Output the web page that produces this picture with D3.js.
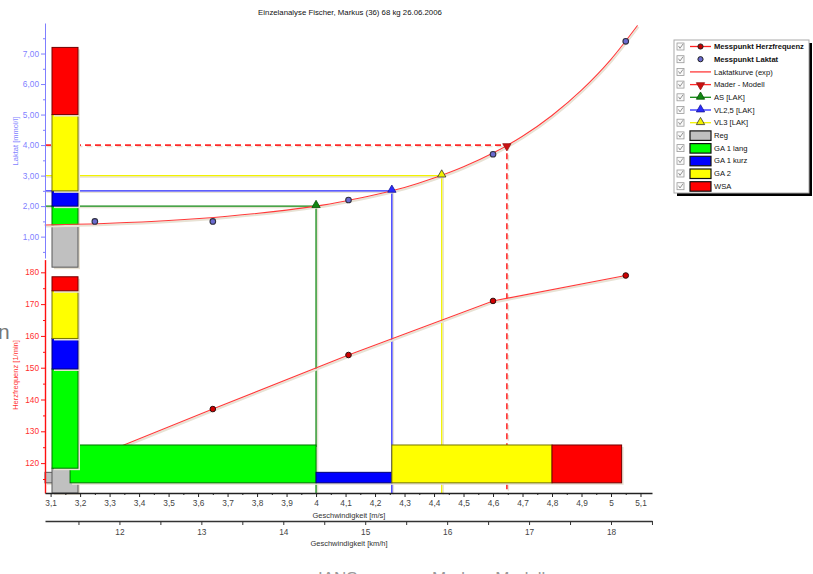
<!DOCTYPE html>
<html>
<head>
<meta charset="utf-8">
<script src="https://cdn.jsdelivr.net/npm/d3@7"></script>
<style>
  body { margin: 0; background: #fff; overflow: hidden; }
  svg { display: block; font-family: "Liberation Sans", Arial, sans-serif; }
</style>
</head>
<body>
<svg id="chart" width="813" height="574"></svg>
<script>
// ---- data ----
const titleText = "Einzelanalyse Fischer, Markus (36) 68 kg 26.06.2006";

const hrSpeed = [3.25, 3.65, 4.11, 4.60, 5.05];
const hrValues = [122, 137, 154, 171, 179];

const lacSpeed = [3.25, 3.65, 4.11, 4.60, 5.05];
const lacValues = [1.5, 1.5, 2.2, 3.7, 7.4];

// lactate curve (exp), sampled along the drawn line
const curveSpeed = [3.08, 3.3, 3.5, 3.7, 3.9, 4.0, 4.1, 4.2, 4.3, 4.4, 4.5, 4.6, 4.7, 4.8, 4.9, 5.0, 5.09];
const curveLactate = [1.38, 1.44, 1.53, 1.67, 1.87, 2.0, 2.17, 2.37, 2.61, 2.92, 3.29, 3.74, 4.29, 4.97, 5.80, 6.81, 7.92];

// thresholds
const thresholdNames = ["AS [LAK]", "VL2,5 [LAK]", "VL3 [LAK]", "Mader - Modell"];
const thresholdSpeed = [4.0, 4.257, 4.426, 4.647];
const thresholdLactate = [2.0, 2.5, 3.0, 4.0];

// training zones
const zoneNames = ["Reg", "GA 1 lang", "GA 1 kurz", "GA 2", "WSA"];
const zoneLactate = [0, 1.38, 2.0, 2.5, 5.0, 7.2];          // bounds
const zoneHr = [110.6, 118.4, 149.6, 159.2, 174.2, 178.6];   // bounds
const zoneSpeed = [3.081, 3.166, 4.0, 4.257, 4.8, 5.036];    // bounds
const zoneSpeedBarTop = [117.1, 125.7, 117.1, 125.7, 125.7]; // in 1/min
const zoneSpeedBarBase = 113.8;

// tick labels
const lactateTicks = [1, 2, 3, 4, 5, 6, 7];
const hrTicks = [120, 130, 140, 150, 160, 170, 180];
const msTicks = [3.1, 3.2, 3.3, 3.4, 3.5, 3.6, 3.7, 3.8, 3.9, 4.0, 4.1, 4.2, 4.3, 4.4, 4.5, 4.6, 4.7, 4.8, 4.9, 5.0, 5.1];
const kmhTicks = [12, 13, 14, 15, 16, 17, 18];

// ---- styles ----
const zoneColors = ["#c0c0c0", "#00ff00", "#0000ff", "#ffff00", "#ff0000"];
const thresholdColors = ["#118811", "#2a2aff", "#f2f200", "#ff2a2a"];
const shadowColor = "#e8e2d4";
const lacBlue = "#7f7fff";
const hrRed = "#ff1010";

const svg = d3.select("#chart");

const x = d3.scaleLinear().domain([3.081, 5.139]).range([45, 652]);
const xKmh = d3.scaleLinear().domain([3.081 * 3.6, 5.139 * 3.6]).range([45, 652]);
const yLac = d3.scaleLinear().domain([0.3, 8]).range([258, 23]);
const yHr = d3.scaleLinear().domain([110.6, 184]).range([493, 259.6]);

const barLeft = 52, barRight = 78;
const axisBottomY = yHr.range()[0];
const comma = s => s.replace(".", ",");

// title
svg.append("text")
  .attr("x", 350).attr("y", 15)
  .attr("text-anchor", "middle")
  .attr("font-size", 7.8)
  .attr("fill", "#111")
  .text(titleText);

// stray page text around the screenshot
svg.append("text").attr("x", -2).attr("y", 339)
  .attr("font-size", 21).attr("fill", "#777").text("n");
svg.append("text").attr("x", 318).attr("y", 584)
  .attr("font-size", 17).attr("fill", "#999").text("IANS.");
svg.append("text").attr("x", 432).attr("y", 584)
  .attr("font-size", 17).attr("fill", "#999").text("Mader - Modell");

const plot = svg.append("g");

// threshold lines (under the bars)
thresholdNames.forEach((name, i) => {
  const pts = [
    [x(x.domain()[0]), yLac(thresholdLactate[i])],
    [x(thresholdSpeed[i]), yLac(thresholdLactate[i])],
    [x(thresholdSpeed[i]), axisBottomY]
  ];
  plot.append("path")
    .attr("d", d3.line()(pts.map(p => [p[0] + 1.5, p[1] + 1.5])))
    .attr("fill", "none").attr("stroke", shadowColor).attr("stroke-width", 1.5)
    .attr("stroke-dasharray", i === 3 ? "6,4" : null);
  plot.append("path")
    .attr("d", d3.line()(pts))
    .attr("fill", "none")
    .attr("stroke", thresholdColors[i])
    .attr("stroke-width", i === 3 ? 1.6 : 1.3)
    .attr("stroke-dasharray", i === 3 ? "6,4" : null);
});

// heart rate line
const hrLine = d3.line().x((d, i) => x(hrSpeed[i])).y(d => yHr(d));
plot.append("path").attr("d", hrLine(hrValues))
  .attr("transform", "translate(1,1.5)")
  .attr("fill", "none").attr("stroke", shadowColor).attr("stroke-width", 2);
plot.append("path").attr("d", hrLine(hrValues))
  .attr("fill", "none").attr("stroke", "#ff3a3a").attr("stroke-width", 1.1);

// heart rate points (first one sits behind the zone bar)
plot.selectAll(".hrpt").data(hrValues).enter().append("circle")
  .attr("cx", (d, i) => x(hrSpeed[i])).attr("cy", d => yHr(d))
  .attr("r", 2.8)
  .attr("fill", "#d00000").attr("stroke", "#301010").attr("stroke-width", 1);

// bars
function zoneRect(x0, y0, x1, y1, color) {
  const g = plot.append("g");
  g.append("rect")
    .attr("x", Math.min(x0, x1) + 2).attr("y", Math.min(y0, y1) + 2)
    .attr("width", Math.abs(x1 - x0)).attr("height", Math.abs(y1 - y0))
    .attr("fill", shadowColor);
  g.append("rect")
    .attr("x", Math.min(x0, x1)).attr("y", Math.min(y0, y1))
    .attr("width", Math.abs(x1 - x0)).attr("height", Math.abs(y1 - y0))
    .attr("fill", color)
    .attr("stroke", d3.color(color).darker(2.2))
    .attr("stroke-width", 1);
}
const speedBar = i => zoneRect(x(zoneSpeed[i]), yHr(zoneSpeedBarBase), x(zoneSpeed[i + 1]), yHr(zoneSpeedBarTop[i]), zoneColors[i]);
const hrBar = i => zoneRect(barLeft, yHr(zoneHr[i]), barRight, yHr(zoneHr[i + 1]), zoneColors[i]);
const lacBar = i => zoneRect(barLeft, yLac(zoneLactate[i]), barRight, yLac(zoneLactate[i + 1]), zoneColors[i]);

speedBar(0);
hrBar(0);
for (let i = 1; i < zoneNames.length; i++) speedBar(i);
for (let i = 1; i < zoneNames.length; i++) hrBar(i);
for (let i = 0; i < zoneNames.length; i++) lacBar(i);

// lactate curve
const lacCurve = d3.line()
  .x((d, i) => x(curveSpeed[i]))
  .y(d => yLac(d))
  .curve(d3.curveMonotoneX);
plot.append("path").attr("d", lacCurve(curveLactate))
  .attr("transform", "translate(1,1.5)")
  .attr("fill", "none").attr("stroke", shadowColor).attr("stroke-width", 2);
plot.append("path").attr("d", lacCurve(curveLactate))
  .attr("fill", "none").attr("stroke", "#ff3a3a").attr("stroke-width", 1.1);

// threshold markers
const triUp = d3.symbol().type(d3.symbolTriangle).size(30);
thresholdNames.forEach((name, i) => {
  const rot = i === 3 ? " rotate(180)" : "";
  plot.append("path")
    .attr("d", triUp())
    .attr("transform", `translate(${x(thresholdSpeed[i])},${yLac(thresholdLactate[i]) + (i === 3 ? 1 : -1)})${rot}`)
    .attr("fill", i === 3 ? "#cc1010" : thresholdColors[i])
    .attr("stroke", i === 2 ? "#333" : d3.color(thresholdColors[i]).darker(1.5))
    .attr("stroke-width", 0.8);
});

// lactate points
plot.selectAll(".lacpt").data(lacValues).enter().append("circle")
  .attr("cx", (d, i) => x(lacSpeed[i])).attr("cy", d => yLac(d))
  .attr("r", 2.8)
  .attr("fill", "#6a6ad0").attr("stroke", "#303040").attr("stroke-width", 1.1);

// ---- axes ----
function styleAxis(g, color, fontSize) {
  g.selectAll("path.domain").attr("stroke", color);
  g.selectAll(".tick line").attr("stroke", color);
  g.selectAll(".tick text").attr("fill", color).attr("font-size", fontSize)
    .attr("font-family", "Liberation Sans, Arial, sans-serif");
}

// lactate axis
const lacMinor = d3.range(0.5, 8.01, 0.5).filter(v => v % 1 !== 0);
const gLac = svg.append("g").attr("transform", "translate(45,0)")
  .call(d3.axisLeft(yLac).tickValues(lactateTicks).tickSize(4).tickSizeOuter(0)
    .tickPadding(2).tickFormat(d => comma(d.toFixed(2))));
styleAxis(gLac, lacBlue, 8.3);
const gLacMinor = svg.append("g").attr("transform", "translate(45,0)")
  .call(d3.axisLeft(yLac).tickValues(lacMinor).tickSize(2).tickSizeOuter(0).tickFormat(""));
styleAxis(gLacMinor, lacBlue, 8);
gLacMinor.select("path.domain").remove();

svg.append("text")
  .attr("transform", "translate(18,141) rotate(-90)")
  .attr("text-anchor", "middle").attr("font-size", 7.5).attr("fill", lacBlue)
  .text("Laktat [mmol/l]");

// heart rate axis
const hrMinor = d3.range(115, 184, 10);
const gHr = svg.append("g").attr("transform", "translate(45,0)")
  .call(d3.axisLeft(yHr).tickValues(hrTicks).tickSize(4).tickSizeOuter(0).tickPadding(2));
styleAxis(gHr, hrRed, 8.3);
gHr.selectAll(".tick text").attr("fill", "#ff3030");
const gHrMinor = svg.append("g").attr("transform", "translate(45,0)")
  .call(d3.axisLeft(yHr).tickValues(hrMinor).tickSize(2).tickSizeOuter(0).tickFormat(""));
styleAxis(gHrMinor, hrRed, 8);
gHrMinor.select("path.domain").remove();
gHr.select("path.domain").attr("stroke-width", 1.4);

svg.append("text")
  .attr("transform", "translate(18,375) rotate(-90)")
  .attr("text-anchor", "middle").attr("font-size", 7.5).attr("fill", "#ff3030")
  .text("Herzfrequenz [1/min]");

// speed axis m/s
const msMinor = msTicks.map(v => v + 0.05).filter(v => v < 5.139);
const gMs = svg.append("g").attr("transform", `translate(0,${axisBottomY})`)
  .call(d3.axisBottom(x).tickValues(msTicks).tickSize(4).tickSizeOuter(0).tickPadding(3)
    .tickFormat(d => comma(String(+d.toFixed(1)))));
styleAxis(gMs, "#222", 8.3);
gMs.selectAll(".tick text").attr("fill", "#444");
gMs.select("path.domain").attr("stroke-width", 1.4);
const gMsMinor = svg.append("g").attr("transform", `translate(0,${axisBottomY})`)
  .call(d3.axisBottom(x).tickValues(msMinor).tickSize(2).tickSizeOuter(0).tickFormat(""));
styleAxis(gMsMinor, "#222", 8);
gMsMinor.select("path.domain").remove();

svg.append("text")
  .attr("x", 349).attr("y", 518)
  .attr("text-anchor", "middle").attr("font-size", 7.5).attr("fill", "#333")
  .text("Geschwindigkeit [m/s]");

// speed axis km/h
const kmhMinor = kmhTicks.map(v => v - 0.5).concat([18.5]);
const gKmh = svg.append("g").attr("transform", "translate(0,521)")
  .call(d3.axisBottom(xKmh).tickValues(kmhTicks).tickSize(4).tickSizeOuter(0).tickPadding(4));
styleAxis(gKmh, "#333", 8.3);
gKmh.selectAll(".tick text").attr("fill", "#444");
gKmh.select("path.domain").attr("stroke-width", 1.4);
const gKmhMinor = svg.append("g").attr("transform", "translate(0,521)")
  .call(d3.axisBottom(xKmh).tickValues(kmhMinor).tickSize(4).tickSizeOuter(0).tickFormat(""));
styleAxis(gKmhMinor, "#333", 8);
gKmhMinor.select("path.domain").remove();

svg.append("text")
  .attr("x", 349).attr("y", 546)
  .attr("text-anchor", "middle").attr("font-size", 7.5).attr("fill", "#333")
  .text("Geschwindigkeit [km/h]");

// ---- legend ----
const legendItems = [
  { label: "Messpunkt Herzfrequenz", kind: "linept", color: "#ff2020", bold: true },
  { label: "Messpunkt Laktat", kind: "pt", color: "#6a6ad0", bold: true },
  { label: "Laktatkurve (exp)", kind: "line", color: "#ff3a3a" },
  { label: thresholdNames[3], kind: "tri", color: thresholdColors[3], down: true },
  { label: thresholdNames[0], kind: "tri", color: thresholdColors[0] },
  { label: thresholdNames[1], kind: "tri", color: thresholdColors[1] },
  { label: thresholdNames[2], kind: "tri", color: thresholdColors[2] }
].concat(zoneNames.map((n, i) => ({ label: n, kind: "rect", color: zoneColors[i] })));

const lg = svg.append("g").attr("transform", "translate(674,40)");
lg.append("rect").attr("x", 3).attr("y", 3).attr("width", 135).attr("height", 153).attr("fill", "#000");
lg.append("rect").attr("x", 0).attr("y", 0).attr("width", 135).attr("height", 153)
  .attr("fill", "#fff").attr("stroke", "#aaa");

legendItems.forEach((d, i) => {
  const cy = 6.5 + i * 12.7;
  const row = lg.append("g").attr("transform", `translate(0,${cy})`);
  // checkbox
  row.append("rect").attr("x", 3).attr("y", -3.5).attr("width", 7).attr("height", 7)
    .attr("fill", "#fafafa").attr("stroke", "#999").attr("stroke-width", 0.8);
  row.append("path").attr("d", "M4.5,-0.5 L6,1.8 L9,-2.5")
    .attr("fill", "none").attr("stroke", "#888").attr("stroke-width", 0.9);
  if (d.kind === "rect") {
    row.append("rect").attr("x", 16).attr("y", -4.5).attr("width", 21).attr("height", 9.5)
      .attr("fill", d.color).attr("stroke", "#111").attr("stroke-width", 1.2);
  } else {
    if (d.kind !== "pt") {
      row.append("line").attr("x1", 16).attr("x2", 37).attr("y1", 0).attr("y2", 0)
        .attr("stroke", d.color).attr("stroke-width", 1.3);
    }
    if (d.kind === "linept" || d.kind === "pt") {
      row.append("circle").attr("cx", 26.5).attr("cy", 0).attr("r", 2.6)
        .attr("fill", d.kind === "pt" ? d.color : "#c00000").attr("stroke", "#222").attr("stroke-width", 1);
    }
    if (d.kind === "tri") {
      row.append("path").attr("d", triUp())
        .attr("transform", `translate(26.5,${d.down ? 0.5 : -0.5})${d.down ? " rotate(180)" : ""}`)
        .attr("fill", d.down ? "#cc1010" : d.color)
        .attr("stroke", d.color === thresholdColors[2] ? "#333" : d3.color(d.color).darker(1.5))
        .attr("stroke-width", 0.8);
    }
  }
  row.append("text").attr("x", 40).attr("y", 2.6)
    .attr("font-size", 7.6).attr("font-weight", d.bold ? "bold" : "normal")
    .attr("fill", "#111").text(d.label);
});
</script>
</body>
</html>
